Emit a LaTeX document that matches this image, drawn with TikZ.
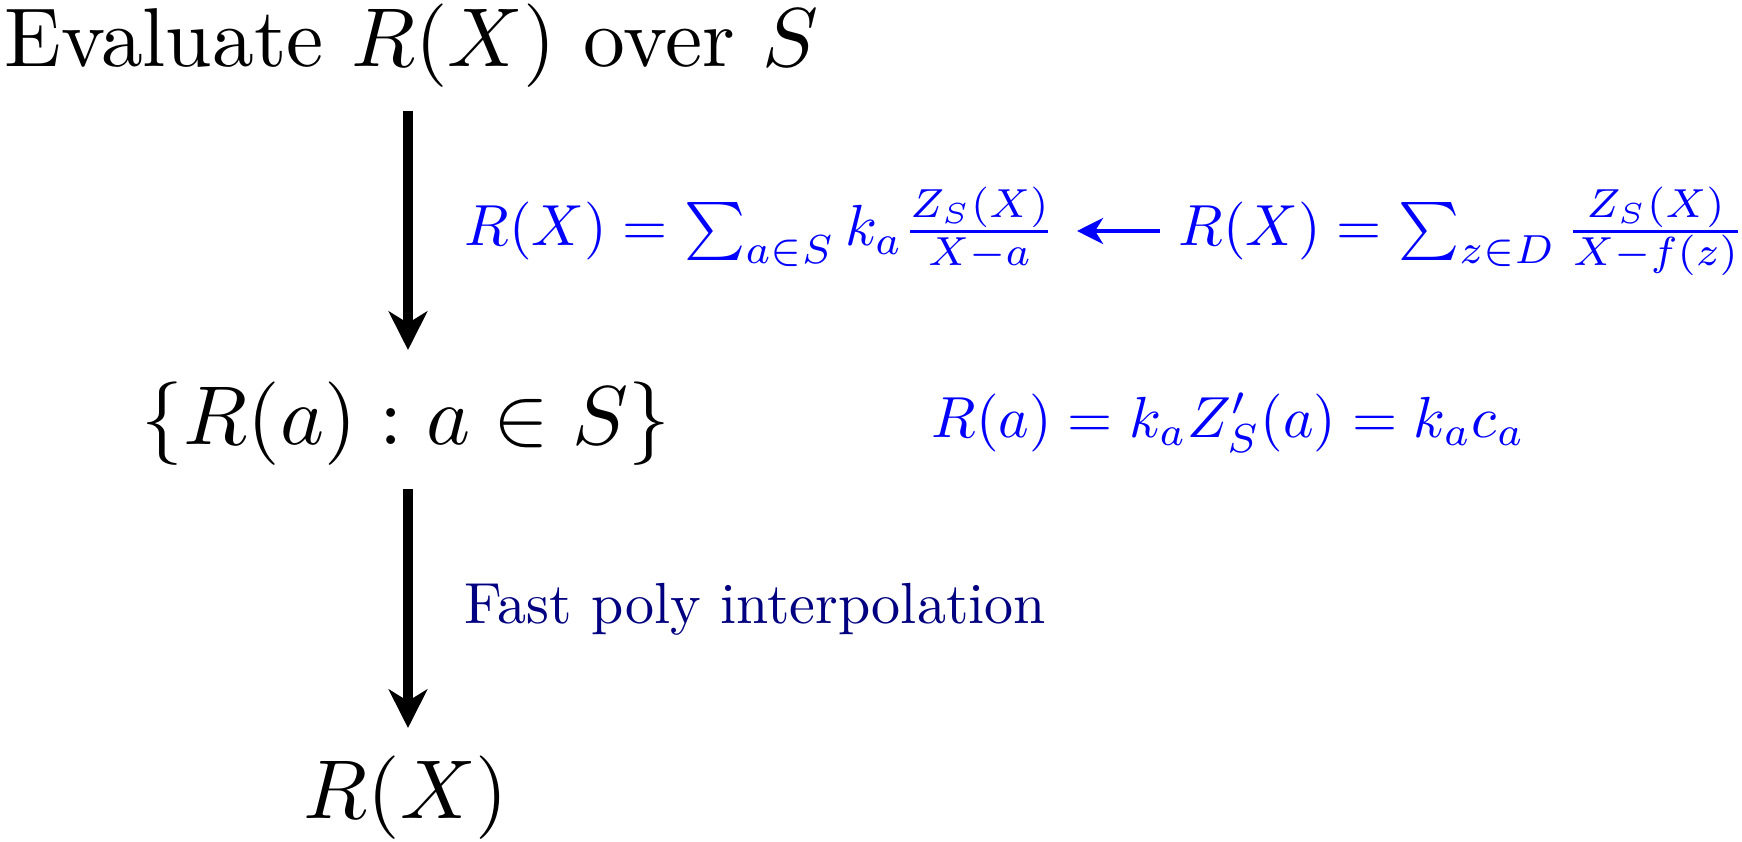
\documentclass[tikz,border=0pt]{standalone}
\usepackage{graphicx}
\usetikzlibrary{arrows.meta}
\definecolor{navyblue}{rgb}{0,0,0.5}
\newcommand{\bigsc}[1]{\scalebox{2.488}{#1}}
\newcommand{\smsc}[1]{\scalebox{1.728}{#1}}
\begin{document}
\begin{tikzpicture}[x=0.298pt,y=-0.298pt,
  big/.style={inner sep=0pt},
  bluetxt/.style={inner sep=0pt,text=blue},
  navytxt/.style={inner sep=0pt,text=navyblue},
  bigarrow/.style={line width=2.7pt,-{Stealth[length=11.5pt,width=11.5pt,inset=3.5pt]}},
  bluearrow/.style={blue,line width=1pt,-{Stealth[length=7.8pt,width=7.8pt,inset=2.4pt]}}]
\useasboundingbox (0,0) rectangle (1742,842);
\node[big,anchor=base west] (title) at (4,67) {\bigsc{Evaluate $R(X)$ over $S$}};
\node[big,anchor=base] (set) at (406,444) {\bigsc{$\{R(a) : a \in S\}$}};
\node[big,anchor=base] (res) at (406,818) {\bigsc{$R(X)$}};
\node[bluetxt,anchor=base west] (f1) at (464,246) {\smsc{$R(X) = \sum_{a\in S} k_a \frac{Z_S(X)}{X-a}$}};
\node[bluetxt,anchor=base west] (f2) at (1178,246) {\smsc{$R(X) = \sum_{z\in D} \frac{Z_S(X)}{X-f(z)}$}};
\node[bluetxt,anchor=base west] (f3) at (931,437) {\smsc{$R(a) = k_a Z'_S(a) = k_a c_a$}};
\node[navytxt,anchor=base west] (fast) at (464,623) {\smsc{Fast poly interpolation}};
\coordinate (a1s) at (408,111);
\coordinate (a1e) at (408,350);
\coordinate (a2s) at (408,489);
\coordinate (a2e) at (408,728);
\coordinate (b1s) at (1160,231);
\coordinate (b1e) at (1077,231);
\draw[bigarrow] (a1s) -- (a1e);
\draw[bigarrow] (a2s) -- (a2e);
\draw[bluearrow] (b1s) -- (b1e);
\end{tikzpicture}
\end{document}
